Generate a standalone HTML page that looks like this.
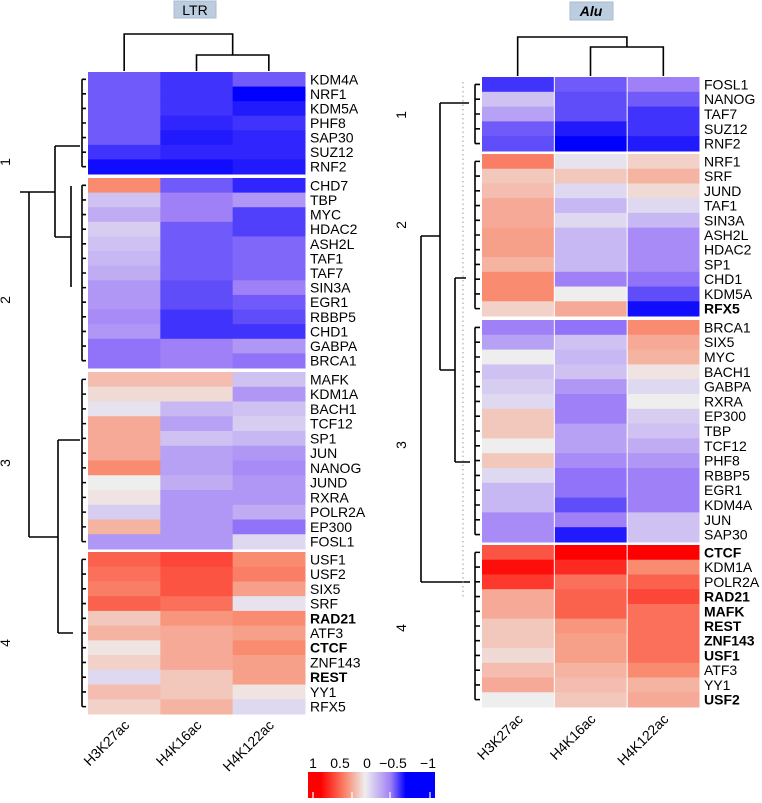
<!DOCTYPE html>
<html><head><meta charset="utf-8"><style>
body{margin:0;background:#fff;}
svg text{font-family:"Liberation Sans",sans-serif;}
</style></head><body>
<svg id="chart" width="762" height="798" xmlns="http://www.w3.org/2000/svg">
<defs>
<linearGradient id="lg" x1="0" x2="1" y1="0" y2="0">
<stop offset="0" stop-color="#ff0000"/><stop offset="0.1" stop-color="#ff0000"/>
<stop offset="0.3" stop-color="#f98a70"/>
<stop offset="0.45" stop-color="#eeeeee"/>
<stop offset="0.65" stop-color="#a080f6"/>
<stop offset="0.77" stop-color="#0000ff"/><stop offset="1" stop-color="#0000ff"/>
</linearGradient>
</defs>
<g id="root"></g>
</svg>
<script>
const cols = ["H3K27ac","H4K16ac","H4K122ac"];
const ltrRows = ["KDM4A","NRF1","KDM5A","PHF8","SAP30","SUZ12","RNF2",
"CHD7","TBP","MYC","HDAC2","ASH2L","TAF1","TAF7","SIN3A","EGR1","RBBP5","CHD1","GABPA","BRCA1",
"MAFK","KDM1A","BACH1","TCF12","SP1","JUN","NANOG","JUND","RXRA","POLR2A","EP300","FOSL1",
"USF1","USF2","SIX5","SRF","RAD21","ATF3","CTCF","ZNF143","REST","YY1","RFX5"];
const ltrGroupSizes = [7,13,12,11];
const ltrBold = ["RAD21","CTCF","REST"];
const ltrValues = [
[-0.65,-0.8,-0.65],[-0.65,-0.8,-1.0],[-0.65,-0.8,-0.9],[-0.65,-0.85,-0.8],[-0.65,-0.9,-0.85],[-0.8,-0.85,-0.85],[-0.95,-0.95,-0.9],
[0.5,-0.65,-0.85],[-0.2,-0.5,-0.4],[-0.3,-0.5,-0.75],[-0.15,-0.65,-0.75],[-0.2,-0.65,-0.6],[-0.25,-0.65,-0.6],[-0.3,-0.65,-0.6],[-0.4,-0.7,-0.5],[-0.4,-0.7,-0.65],[-0.45,-0.8,-0.7],[-0.4,-0.8,-0.8],[-0.55,-0.5,-0.4],[-0.55,-0.5,-0.55],
[0.25,0.25,-0.2],[0.1,0.1,-0.4],[-0.05,-0.25,-0.2],[0.35,-0.35,-0.15],[0.35,-0.2,-0.25],[0.35,-0.35,-0.4],[0.5,-0.35,-0.45],[0.0,-0.3,-0.4],[0.05,-0.4,-0.4],[-0.15,-0.4,-0.3],[0.3,-0.4,-0.55],[-0.4,-0.4,-0.1],
[0.65,0.75,0.5],[0.6,0.7,0.55],[0.55,0.7,0.4],[0.65,0.6,-0.05],[0.2,0.45,0.5],[0.3,0.35,0.4],[0.05,0.35,0.5],[0.15,0.35,0.4],[-0.1,0.2,0.4],[0.25,0.2,0.05],[0.15,0.3,-0.1]];
const aluRows = ["FOSL1","NANOG","TAF7","SUZ12","RNF2",
"NRF1","SRF","JUND","TAF1","SIN3A","ASH2L","HDAC2","SP1","CHD1","KDM5A","RFX5",
"BRCA1","SIX5","MYC","BACH1","GABPA","RXRA","EP300","TBP","TCF12","PHF8","RBBP5","EGR1","KDM4A","JUN","SAP30",
"CTCF","KDM1A","POLR2A","RAD21","MAFK","REST","ZNF143","USF1","ATF3","YY1","USF2"];
const aluGroupSizes = [5,11,15,11];
const aluBold = ["RFX5","CTCF","RAD21","MAFK","REST","ZNF143","USF1","USF2"];
const aluValues = [
[-0.8,-0.65,-0.5],[-0.2,-0.7,-0.65],[-0.35,-0.7,-0.8],[-0.65,-0.9,-0.8],[-0.7,-1.0,-0.9],
[0.55,-0.05,0.15],[0.2,0.2,0.3],[0.25,-0.1,0.1],[0.35,-0.25,-0.1],[0.35,-0.1,-0.25],[0.4,-0.25,-0.45],[0.4,-0.25,-0.45],[0.3,-0.25,-0.45],[0.5,-0.5,-0.55],[0.5,0.0,-0.7],[0.15,0.35,-0.95],
[-0.5,-0.55,0.5],[-0.35,-0.2,0.35],[0.0,-0.25,0.3],[-0.2,-0.2,0.05],[-0.15,-0.4,-0.1],[-0.1,-0.5,0.0],[0.2,-0.5,-0.15],[0.2,-0.35,-0.2],[0.0,-0.35,-0.3],[0.2,-0.45,-0.4],[-0.1,-0.55,-0.5],[-0.25,-0.55,-0.5],[-0.25,-0.7,-0.5],[-0.45,-0.5,-0.2],[-0.45,-0.9,-0.2],
[0.7,1.0,1.0],[0.95,0.85,0.5],[0.8,0.6,0.65],[0.35,0.65,0.75],[0.35,0.65,0.6],[0.2,0.45,0.6],[0.2,0.4,0.6],[0.1,0.4,0.6],[0.25,0.3,0.5],[0.35,0.25,0.3],[0.0,0.2,0.35]];
const legendTicks = [1,0.5,0,-0.5,-1];
const legendTickLabels = ["1","0.5","0","\u22120.5","\u22121"];

const NS="http://www.w3.org/2000/svg";
const root=document.getElementById('root');
function mk(tag,attrs,parent){const e=document.createElementNS(NS,tag);for(const k in attrs)e.setAttribute(k,attrs[k]);(parent||root).appendChild(e);return e;}
const stops=[[1,[255,0,0]],[0.5,[249,140,112]],[0,[238,238,238]],[-0.5,[160,128,247]],[-1,[0,0,255]]];
function color(v){v=Math.max(-1,Math.min(1,v));for(let i=0;i<stops.length-1;i++){const [a,ca]=stops[i],[b,cb]=stops[i+1];if(v<=a&&v>=b){const t=(a-v)/(a-b);return 'rgb('+ca.map((c,j)=>Math.round(c+(cb[j]-c)*t)).join(',')+')';}}return '#eee';}

function heatmap(cfg){
  const g=mk('g',{});
  
  
  const cw=(cfg.x1-cfg.x0-2*cfg.gap)/cols.length;
  const xc=i=>cfg.x0+i*(cw+cfg.gap);
  let r=0;const centers=[];
  cfg.groups.forEach((n,gi)=>{
    const [top,bot]=cfg.gy[gi];const rh=(bot-top)/n;
    for(let k=0;k<n;k++,r++){
      const y=top+k*rh;centers.push(y+rh/2);
      cfg.values[r].forEach((v,ci)=>{
        const c=mk('rect',{x:xc(ci),y:y,width:cw+0.5,height:rh+0.5,fill:color(v)},g);
        
        
      });
      const t=mk('text',{x:cfg.x1+5,y:y+rh/2+5,'font-size':14,'font-weight':cfg.bold.includes(cfg.rows[r])?'bold':'normal',fill:'#000'},g);
      t.textContent=cfg.rows[r];
      
      
    }
    const f=centers[centers.length-n],l=centers[centers.length-1];
    mk('path',{d:`M${cfg.bx} ${f}V${l}`+centers.slice(-n).map(c=>`M${cfg.bx} ${c}H${cfg.x0-2}`).join(''),stroke:'#000','stroke-width':1.6,fill:'none'},g);
  });
  cols.forEach((c,ci)=>{
    const cx=xc(ci)+cw/2+6;
    const t=mk('text',{x:0,y:0,'font-size':14,'text-anchor':'end',transform:`translate(${cx} ${cfg.labelY}) rotate(-45)`},g);
    t.textContent=c;
    
    
  });
  const c0=xc(0)+cw/2,c1=xc(1)+cw/2,c2=xc(2)+cw/2,top=cfg.gy[0][0]-1,m=(c1+c2)/2;
  mk('path',{d:`M${c1} ${top}V${cfg.cd[1]}H${c2}V${top}M${c0} ${top}V${cfg.cd[0]}H${m}V${cfg.cd[1]}`,stroke:'#000','stroke-width':1.6,fill:'none'},g);
  return g;
}
heatmap({name:'ltr-heatmap',x0:88,x1:305,gap:0,rows:ltrRows,values:ltrValues,groups:ltrGroupSizes,bold:ltrBold,
  gy:[[72,174],[178,368],[372,549],[552,714]],bx:82,labelY:726,cd:[34,55]});
heatmap({name:'alu-heatmap',x0:482,x1:699,gap:1.5,rows:aluRows,values:aluValues,groups:aluGroupSizes,bold:aluBold,
  gy:[[77,151],[154,316],[320,542],[545,707]],bx:475,labelY:720,cd:[37,47]});

const dend=mk('path',{d:
 'M20 192H29M29 192V537M29 192H55M55 146V237M55 146H80M55 237H71M71 186V287M29 537H58M58 440V633M58 440H80M58 633H73'+
 'M421 236V582M421 236H440M440 103V370M440 103H469M440 370H455M455 278V462M455 278H466M455 462H470M421 582H470',
 stroke:'#000','stroke-width':1.6,fill:'none'});


const dot=mk('path',{d:'M463 82V597',stroke:'#999','stroke-width':1,'stroke-dasharray':'1.5 3',fill:'none'});



[[10,162,'1'],[10,300,'2'],[10,463,'3'],[10,643,'4'],[406,115,'1'],[406,225,'2'],[406,445,'3'],[406,628,'4']].forEach(([x,y,s])=>{
  const t=mk('text',{x:x,y:y,'font-size':14,'text-anchor':'middle',transform:`rotate(-90 ${x} ${y})`});
  t.textContent=s;
  
  
});
[[174,1,42,17,'LTR','normal',195],[570,2,43,18,'Alu','italic',591]].forEach(([x,y,w,h,s,st,cx])=>{
  const r=mk('rect',{x:x,y:y,width:w,height:h,fill:'#bccde0',stroke:'#a9bbd0'});
  
  
  const t=mk('text',{x:cx,y:y+14,'font-size':14,'text-anchor':'middle','font-style':st,'font-weight':st==='italic'?'bold':'normal'});
  t.textContent=s;
  
  
});
// legend: value -> label x, tick x
const labelX=v=>v>0?(367-(367-313)*v):(367+(428-367)*(-v));
const tickX=v=>313+(430-313)*(1-v)/2;
const bar=mk('rect',{x:308,y:772,width:127,height:26,fill:'url(#lg)'});


legendTicks.forEach((v,i)=>{
  const t=mk('text',{x:v===-0.5?393:labelX(v),y:768,'font-size':14,'text-anchor':'middle'});
  t.textContent=legendTickLabels[i];
  
  
  if(v!==0){const x=v===1?313:v===0.5?352:v===-0.5?390:430;
  const tk=mk('line',{x1:x,x2:x,y1:792,y2:798,stroke:'#fff','stroke-width':1.2});
  
  }
});
</script>
</body></html>
